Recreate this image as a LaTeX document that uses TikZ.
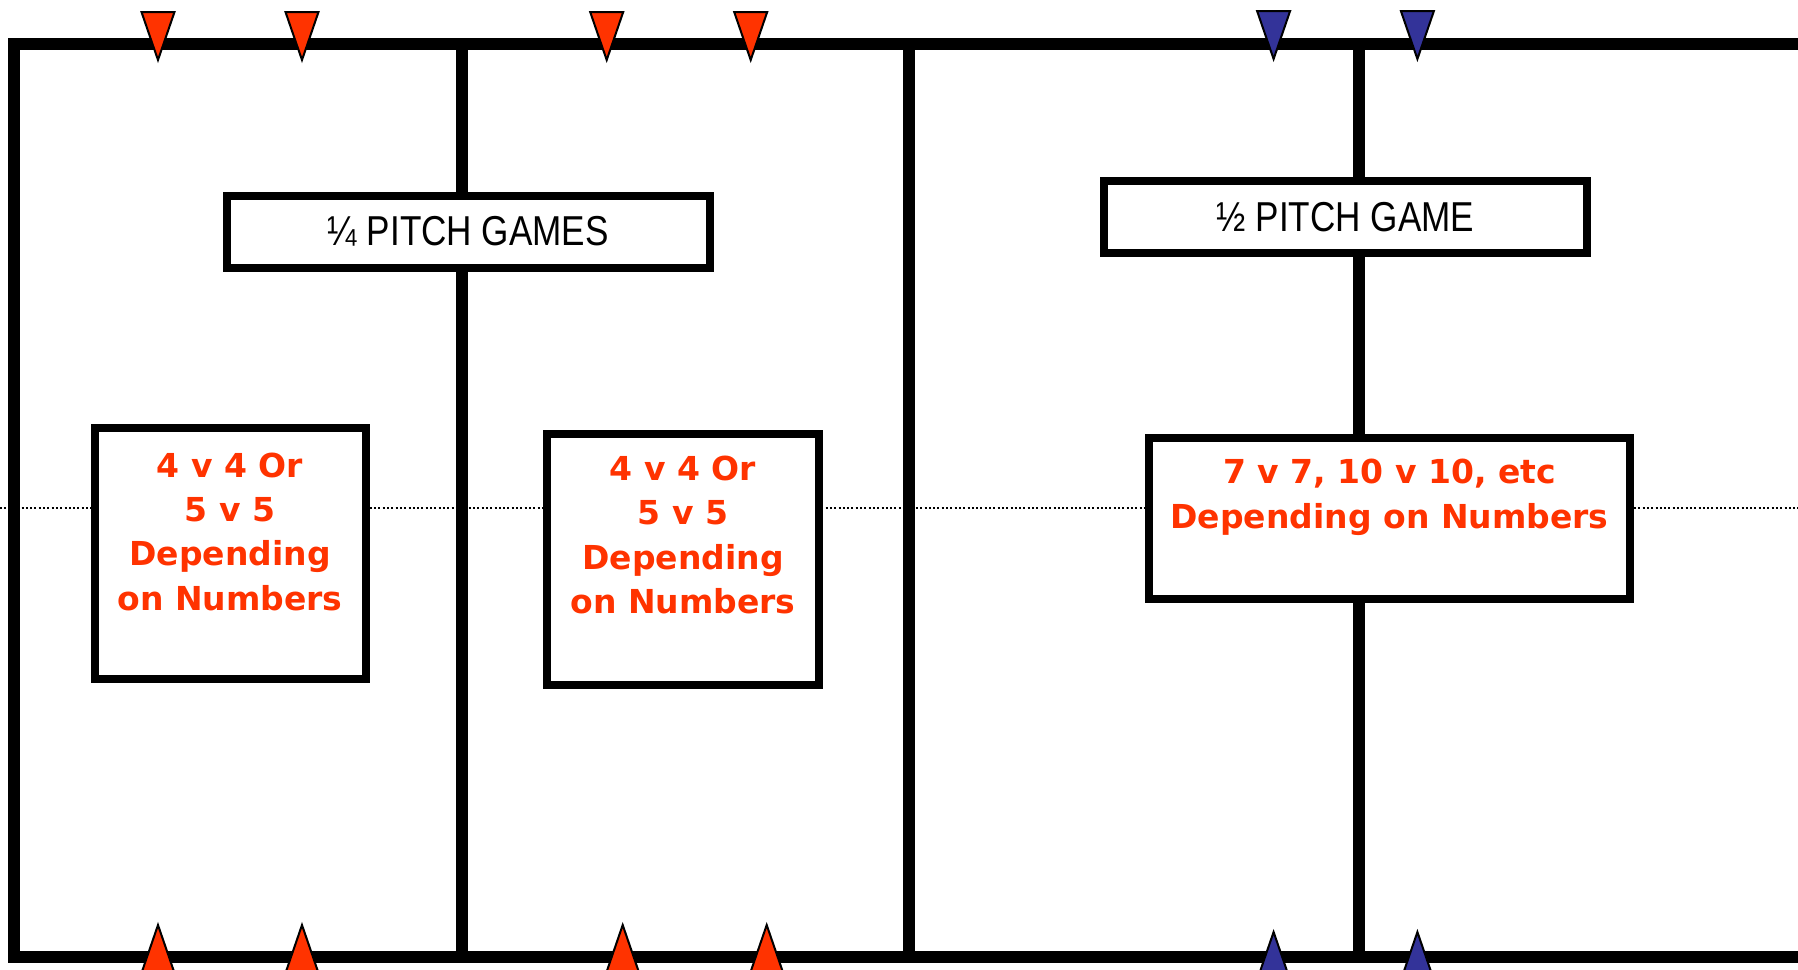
\documentclass[tikz,border=0pt]{standalone}
\usepackage{fontspec}
\newfontfamily\hdrfont[FakeStretch=0.84]{Liberation Sans}
\newfontfamily\redfont{DejaVu Sans}
\definecolor{conered}{HTML}{FF3300}
\definecolor{coneblue}{HTML}{333399}
\definecolor{txtred}{HTML}{FF3300}
\begin{document}
\begin{tikzpicture}[x=0.5pt,y=-0.5pt,
  field/.style={line width=6pt, line join=miter, line cap=butt},
  hdrbox/.style={draw, line width=4pt, fill=white, inner sep=0pt,
    minimum width=241.7pt, minimum height=36pt,
    font=\hdrfont\fontsize{20.9}{25}\selectfont},
  gamebox/.style={draw, line width=4pt, fill=white, inner sep=0pt},
  gametext/.style={text=txtred, align=center, inner sep=0pt, anchor=base,
    font=\redfont\bfseries\fontsize{16.5}{22.2}\selectfont},
  cone/.style={draw=black, line width=1pt, line join=miter},
]
\clip (0,0) rectangle (1798,969);
\fill[white] (0,0) rectangle (1798,969);

% halfway line (dotted)
\draw[line width=1pt, dash pattern=on 1pt off 1.15pt] (0,508.3) -- (1798,508.3);

% pitch outline and dividers
\draw[field] (1810,44.2) -- (14.2,44.2) -- (14.2,956.5) -- (1810,956.5);
\draw[field] (462,44.2) -- (462,956.5);
\draw[field] (909,44.2) -- (909,956.5);
\draw[field] (1358.5,44.2) -- (1358.5,956.5);

% header boxes
\node[hdrbox] (hdrA) at (468.3,231.7) {¼ PITCH GAMES};
\node[hdrbox] (hdrB) at (1345.5,216.7) {½ PITCH GAME};

% game boxes
\node[gamebox, minimum width=135.75pt, minimum height=125.6pt] (boxA) at (230.25,553.75) {};
\node[gamebox, minimum width=135.75pt, minimum height=125.6pt] (boxB) at (683,559.15) {};
\node[gamebox, minimum width=240.5pt, minimum height=80.35pt] (boxC) at (1389.5,518.3) {};

% text (anchor = baseline of last line)
\node[gametext] (txtA) at (230,610.2) {4 v 4 Or\\5 v 5\\Depending\\on Numbers};
\node[gametext] (txtB) at (683,613.5) {4 v 4 Or\\5 v 5\\Depending\\on Numbers};
\node[gametext] (txtC) at (1389.5,528.3) {7 v 7, 10 v 10, etc\\Depending on Numbers};

% cones (top, pointing down)
\foreach \x in {158,302,606.7,750.7}
  \draw[cone, fill=conered] (\x-16.5,12) -- (\x+16.5,12) -- (\x,60) -- cycle;
\foreach \x in {1273.6,1417.4}
  \draw[cone, fill=coneblue] (\x-16.5,11) -- (\x+16.5,11) -- (\x,59) -- cycle;
% cones (bottom, pointing up)
\foreach \x in {158,302,622.7,766.7}
  \draw[cone, fill=conered] (\x-16.5,973) -- (\x+16.5,973) -- (\x,925) -- cycle;
\foreach \x in {1273.6,1417.4}
  \draw[cone, fill=coneblue] (\x-16.5,980) -- (\x+16.5,980) -- (\x,932) -- cycle;
\end{tikzpicture}
\end{document}
